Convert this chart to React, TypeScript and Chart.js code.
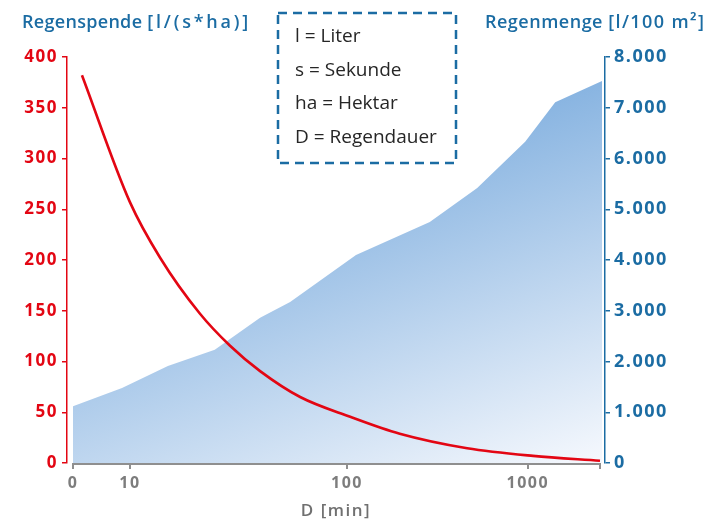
import React, { useEffect, useRef } from 'react';
import { Chart, registerables } from 'chart.js';

Chart.register(...registerables);

// x values are positions on the (non-uniform) duration axis: 0 = "0 min", 100 = right end
const xTickPositions = [0, 10.8, 52.0, 86.3, 100];
const xTickLabels = ['0', '10', '100', '1000', ''];

// Regenspende [l/(s*ha)] (red line, left axis)
const intensityX = [1.7, 10.8, 16.5, 24.1, 29.8, 35.5, 43.1, 52.6, 62.0, 74.8, 87.3, 100];
const intensityValues = [382, 257, 202.5, 147, 115.5, 90.5, 65, 45.5, 28.8, 14.5, 7, 2.2];

// Regenmenge [l/100 m²] (blue area, right axis)
const amountX = [0, 9.3, 18.0, 26.9, 35.5, 41.2, 53.7, 67.7, 76.7, 85.8, 91.5, 100.4];
const amountValues = [1120, 1480, 1910, 2230, 2860, 3170, 4100, 4750, 5420, 6330, 7110, 7530];

const legendLines = ['l = Liter', 's = Sekunde', 'ha = Hektar', 'D = Regendauer'];

const RED = '#e30613';
const BLUE = '#1b6ca3';
const GRAY = '#8f8f8f';
const FONT = "'Open Sans', sans-serif";

const fmtThousands = (v: number) => (v >= 1000 ? `${Math.floor(v / 1000)}.${String(v % 1000).padStart(3, '0')}` : String(v));

export default function App() {
  const ref = useRef<HTMLCanvasElement>(null);

  useEffect(() => {
    Chart.defaults.font.family = FONT;
    const spacing = {
      id: 'spacing',
      beforeDraw(chart: any) {
        chart.ctx.letterSpacing = '1.5px';
      },
    };
    const baseline = {
      id: 'baseline',
      afterDraw(chart: any) {
        const xs = chart.scales.x;
        const ctx = chart.ctx;
        const y = chart.chartArea.bottom + 1;
        ctx.save();
        ctx.strokeStyle = GRAY;
        ctx.lineWidth = 2;
        ctx.beginPath();
        ctx.moveTo(xs.getPixelForValue(0) - 1, y);
        ctx.lineTo(xs.getPixelForValue(100) + 1, y);
        ctx.stroke();
        ctx.restore();
      },
    };

    const chart = new Chart(ref.current!, {
      type: 'line',
      data: {
        datasets: [
          {
            label: 'Regenspende',
            data: intensityX.map((x, i) => ({ x, y: intensityValues[i] })),
            borderColor: RED,
            borderWidth: 2.6,
            pointRadius: 0,
            fill: false,
            cubicInterpolationMode: 'monotone',
            yAxisID: 'y',
            order: 0,
          },
          {
            label: 'Regenmenge',
            data: amountX.map((x, i) => ({ x, y: amountValues[i] })),
            borderWidth: 0,
            borderColor: 'rgba(0,0,0,0)',
            pointRadius: 0,
            tension: 0,
            fill: 'origin',
            yAxisID: 'y1',
            order: 1,
            backgroundColor: (context: any) => {
              const c = context.chart;
              const ca = c.chartArea;
              if (!ca) return '#a9c8ea';
              const x0 = ca.right - 5;
              const y0 = ca.top + 23;
              const g = c.ctx.createLinearGradient(x0, y0, x0 + 123, y0 + 335);
              g.addColorStop(0, '#88b4e1');
              g.addColorStop(1, '#f5f8fd');
              return g;
            },
          },
        ],
      },
      options: {
        responsive: false,
        maintainAspectRatio: false,
        animation: false,
        devicePixelRatio: 1,
        layout: { padding: { top: 57, left: 0, right: 0, bottom: 0 } },
        plugins: { legend: { display: false }, tooltip: { enabled: false } },
        scales: {
          x: {
            type: 'linear',
            position: 'bottom',
            min: -1.1385,
            max: 100.9488,
            border: { display: false },
            grid: { drawOnChartArea: false, drawTicks: true, tickLength: 6, color: GRAY, lineWidth: 2 },
            afterBuildTicks: (s: any) => {
              s.ticks = xTickPositions.map((v) => ({ value: v }));
            },
            ticks: {
              autoSkip: false,
              maxRotation: 0,
              padding: 5,
              color: '#7d7d7d',
              font: { size: 16, weight: 'bold' },
              callback: (_v: any, i: number) => xTickLabels[i],
            },
            title: {
              display: true,
              text: 'D [min]',
              color: '#707070',
              font: { size: 17, weight: '600' },
              padding: { top: 0, bottom: 1 },
            },
            afterFit: (s: any) => {
              s.height = 59;
            },
          },
          y: {
            type: 'linear',
            position: 'left',
            min: 0,
            max: 400,
            ticks: { stepSize: 50, color: RED, font: { size: 17, weight: 'bold' }, padding: 4 },
            grid: { drawOnChartArea: false, tickLength: 5, color: RED, lineWidth: 1.5 },
            border: { display: true, color: RED, width: 1.5 },
            afterFit: (s: any) => {
              s.width = 67;
            },
          },
          y1: {
            type: 'linear',
            position: 'right',
            min: 0,
            max: 8000,
            ticks: {
              stepSize: 1000,
              color: BLUE,
              font: { size: 18, weight: 'bold' },
              padding: 4,
              callback: (v: any) => fmtThousands(Number(v)),
            },
            grid: { drawOnChartArea: false, tickLength: 5, color: BLUE, lineWidth: 1.5 },
            border: { display: true, color: BLUE, width: 1.5 },
            afterFit: (s: any) => {
              s.width = 104;
            },
          },
        },
      } as any,
      plugins: [spacing, baseline],
    });
    return () => chart.destroy();
  }, []);

  const titleStyle: React.CSSProperties = {
    position: 'absolute',
    top: 11,
    fontSize: 18,
    lineHeight: '20px',
    fontWeight: 600,
    color: BLUE,
    whiteSpace: 'nowrap',
    fontFamily: FONT,
  };

  return (
    <div
      style={{
        position: 'fixed',
        left: 0,
        top: 0,
        width: 709,
        height: 522,
        background: '#fff',
        overflow: 'hidden',
        fontFamily: FONT,
      }}
    >
      <canvas ref={ref} width={709} height={522} style={{ position: 'absolute', left: 0, top: 0, width: 709, height: 522 }} />
      <div style={{ ...titleStyle, left: 22, letterSpacing: '0.3px' }}>
        Regenspende <span style={{ letterSpacing: '2.8px' }}>[l/(s*ha)]</span>
      </div>
      <div style={{ ...titleStyle, left: 485, letterSpacing: '0.5px' }}>
        Regenmenge <span style={{ letterSpacing: '1.4px' }}>[l/100 m²]</span>
      </div>
      <svg width={709} height={522} style={{ position: 'absolute', left: 0, top: 0, pointerEvents: 'none' }}>
        <rect x={278} y={13} width={178} height={150} fill="none" stroke={BLUE} strokeWidth={2.5} strokeDasharray="9 6" />
      </svg>
      <div style={{ position: 'absolute', left: 295, top: 19, fontSize: 19, lineHeight: '33.7px', color: '#262626', whiteSpace: 'nowrap' }}>
        {legendLines.map((t) => (
          <div key={t}>{t}</div>
        ))}
      </div>
    </div>
  );
}
